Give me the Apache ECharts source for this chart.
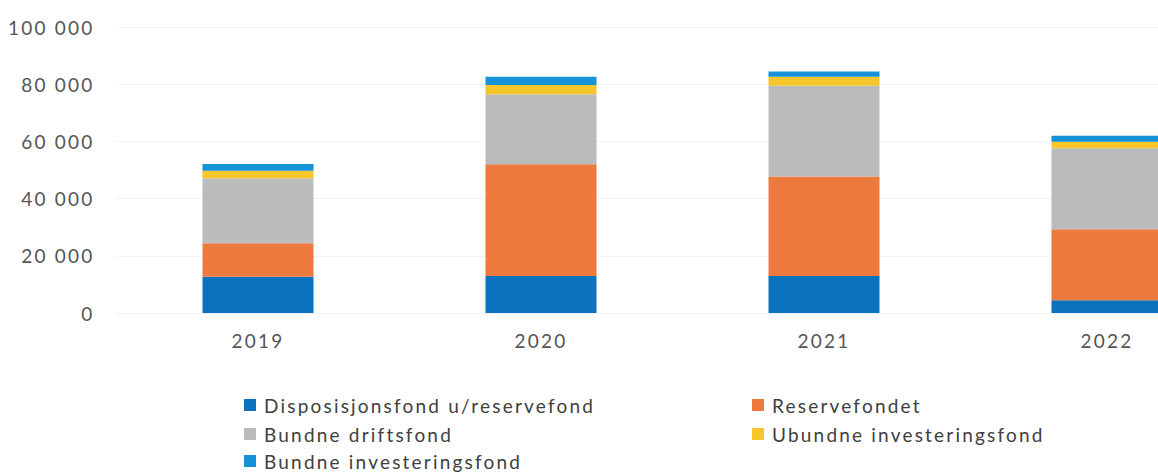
<!DOCTYPE html>
<html>
<head>
<meta charset="utf-8">
<script src="https://cdn.jsdelivr.net/npm/echarts@6/dist/echarts.min.js"></script>
<style>
html,body{margin:0;padding:0;background:#fff;overflow:hidden;width:1158px;height:473px}
#c{width:1300px;height:473px}
#c svg text{letter-spacing:2.2px}
</style>
</head>
<body>
<div id="c"></div>
<script>
const categories = ['2019', '2020', '2021', '2022'];
const disposisjonsfond = [12700, 12900, 12900, 4500];
const reservefondet = [11700, 39100, 34800, 24800];
const bundneDriftsfond = [22700, 24500, 31800, 28300];
const ubundneInvesteringsfond = [2600, 3200, 3100, 2300];
const bundneInvesteringsfond = [2400, 2900, 1800, 2100];
const yTicks = [0, 20000, 40000, 60000, 80000, 100000];

const names = ['Disposisjonsfond u/reservefond', 'Reservefondet', 'Bundne driftsfond', 'Ubundne investeringsfond', 'Bundne investeringsfond'];
const colors = ['#0b72bd', '#ec7a3e', '#b9bbbc', '#f7c62a', '#1593d6'];
const seriesData = [disposisjonsfond, reservefondet, bundneDriftsfond, ubundneInvesteringsfond, bundneInvesteringsfond];

const fontFamily = 'Lato, "Open Sans", sans-serif';
const chart = echarts.init(document.getElementById('c'), null, { renderer: 'svg' });
const legendText = { fontSize: 19, lineHeight: 20, color: '#404040', fontFamily: fontFamily, padding: [0, 0, 0, 3] };
const legendPos = [[244, 395], [752, 395], [244, 424], [752, 424], [244, 451]];
chart.setOption({
  animation: false,
  grid: { left: 116.5, right: 51.5, top: 27, bottom: 160 },
  legend: names.map((n, i) => ({
    left: legendPos[i][0], top: legendPos[i][1], itemWidth: 12, itemHeight: 12, icon: 'rect', padding: 0,
    data: [n], textStyle: legendText
  })),
  xAxis: {
    type: 'category', data: categories,
    axisLine: { show: false }, axisTick: { show: false },
    axisLabel: { fontSize: 19, color: '#555', margin: 18, fontFamily: fontFamily }
  },
  yAxis: {
    type: 'value', min: 0, max: 100000, interval: 20000,
    axisLine: { show: false }, axisTick: { show: false },
    splitLine: { lineStyle: { color: '#f2f2f2', width: 1 } },
    axisLabel: {
      fontSize: 19, color: '#555', margin: 22, fontFamily: fontFamily,
      formatter: v => String(v).replace(/\B(?=(\d{3})+(?!\d))/g, ' ')
    }
  },
  series: seriesData.map((d, i) => ({
    name: names[i], type: 'bar', stack: 'total', data: d, barWidth: 111,
    itemStyle: { color: colors[i] }
  }))
});
</script>
</body>
</html>
